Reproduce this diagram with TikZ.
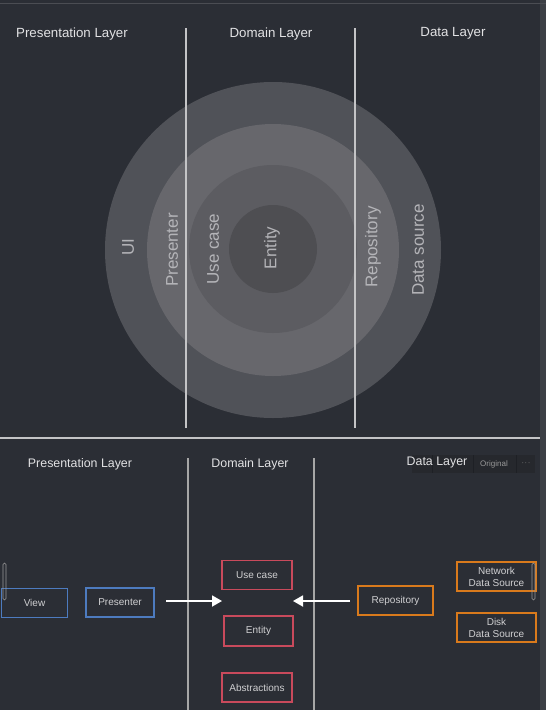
\documentclass[tikz,border=0pt]{standalone}
\usepackage{fontspec}
\setmainfont{Liberation Sans}
\usetikzlibrary{arrows.meta}
\definecolor{bg}{HTML}{2B2E35}
\definecolor{ringA}{HTML}{505258}
\definecolor{ringB}{HTML}{67676C}
\definecolor{ringC}{HTML}{5C5C61}
\definecolor{ringD}{HTML}{4E4E52}
\definecolor{linegray}{HTML}{C4C4C6}
\definecolor{headtext}{HTML}{E2E2E4}
\definecolor{circtext}{HTML}{B4B4B8}
\definecolor{boxtext}{HTML}{D0D0D2}
\definecolor{bblue}{HTML}{4D7BBF}
\definecolor{bred}{HTML}{C94A5C}
\definecolor{borange}{HTML}{D97A1C}
\definecolor{tbar}{HTML}{26282D}
\tikzset{
  header/.style={text=headtext, font=\fontsize{13.3}{15}\selectfont, inner sep=0pt},
  subheader/.style={text=headtext, font=\fontsize{12.4}{14}\selectfont, inner sep=0pt},
  circlabel/.style={text=circtext, font=\fontsize{17}{19}\selectfont, rotate=90, inner sep=0pt},
  layerline/.style={draw=linegray, line width=1.8pt},
  boxbase/.style={draw, line width=1.5pt, text=boxtext, font=\fontsize{10}{12}\selectfont, align=center, minimum height=29pt, inner sep=1pt},
  bluebox/.style={boxbase, draw=bblue},
  redbox/.style={boxbase, draw=bred},
  orangebox/.style={boxbase, draw=borange},
  flowarrow/.style={draw=white, line width=1.8pt, -{Triangle[length=10pt,width=11pt]}},
  scrollbit/.style={draw=gray!80, line width=0.6pt, rounded corners=1.5pt}
}
\begin{document}
\begin{tikzpicture}[x=1pt,y=-1pt]
\useasboundingbox (0,0) rectangle (546,710);
\fill[bg] (0,0) rectangle (546,710);
\fill[bg!92!white] (540,0) rectangle (546,710);
\draw[bg!85!white, line width=0.8pt] (0,3) -- (546,3);
% --- top: concentric circles
\fill[ringA] (273,250) circle (168);
\fill[ringB] (273,250) circle (126);
\fill[ringC] (273,249) circle (84);
\fill[ringD] (273,249) circle (44);
% headers
\node[header] (h1) at (72,34) {Presentation Layer};
\node[header] (h2) at (271,34) {Domain Layer};
\node[header] (h3) at (453,33) {Data Layer};
% layer lines
\coordinate (l1t) at (186,28); \coordinate (l1b) at (186,428);
\coordinate (l2t) at (355,28); \coordinate (l2b) at (355,428);
\draw[layerline] (l1t) -- (l1b);
\draw[layerline] (l2t) -- (l2b);
% circle labels
\node[circlabel] (ui) at (128,247) {UI};
\node[circlabel] (cpres) at (172,250) {Presenter};
\node[circlabel] (cuse) at (213,249) {Use case};
\node[circlabel] (cent) at (272,248) {Entity};
\node[circlabel] (crepo) at (373,247) {Repository};
\node[circlabel] (cds) at (418,250) {Data source};
% separator
\coordinate (s1) at (0,438); \coordinate (s2) at (540,438);
\draw[linegray, line width=1.5pt] (s1) -- (s2);
% --- bottom
\coordinate (m1t) at (188,458); \coordinate (m1b) at (188,710);
\coordinate (m2t) at (314,458); \coordinate (m2b) at (314,710);
\draw[draw=gray!70, line width=1.2pt] (m1t) -- (m1b);
\draw[draw=gray!70, line width=1.2pt] (m2t) -- (m2b);
% toolbar overlay
\fill[tbar] (412,455) rectangle (535,473);
\draw[bg!70!black, line width=0.6pt] (432,455) -- (432,473) (473,455) -- (473,473) (516,455) -- (516,473);
\node[text=gray!80, font=\fontsize{8}{10}\selectfont, inner sep=0pt] (orig) at (494,464.5) {Original};
\node[text=gray!90, font=\fontsize{9}{10}\selectfont, inner sep=0pt] (dots) at (526,463) {$\cdot\!\cdot\!\cdot$};
\node[subheader] (b1) at (80,464) {Presentation Layer};
\node[subheader] (b2) at (250,464) {Domain Layer};
\node[subheader] (b3) at (437,463) {Data Layer};
% boxes
\node[bluebox, minimum width=66pt] (view) at (34.5,603) {View};
\node[bluebox, minimum width=68pt] (presenter) at (120,602.5) {Presenter};
\node[redbox, minimum width=70pt] (usecase) at (257,575) {Use case};
\node[redbox, minimum width=69pt, minimum height=30pt] (entity) at (258.5,631) {Entity};
\node[redbox, minimum width=70pt] (abstr) at (257,687.5) {Abstractions};
\node[orangebox, minimum width=75pt] (repo) at (395.5,600.5) {Repository};
\node[orangebox, minimum width=79pt, inner sep=0pt] (netds) at (496.5,576.5) {Network\\Data Source};
\node[orangebox, minimum width=79pt, inner sep=0pt] (diskds) at (496.5,627.5) {Disk\\Data Source};
% arrows
\coordinate (a1s) at (166,601); \coordinate (a1e) at (222,601);
\coordinate (a2s) at (350,601); \coordinate (a2e) at (293,601);
\draw[flowarrow] (a1s) -- (a1e);
\draw[flowarrow] (a2s) -- (a2e);
% scrollbar artifacts
\draw[scrollbit] (3,563) rectangle (6,600);
\draw[scrollbit] (532,563) rectangle (535,600);
\end{tikzpicture}
\end{document}
